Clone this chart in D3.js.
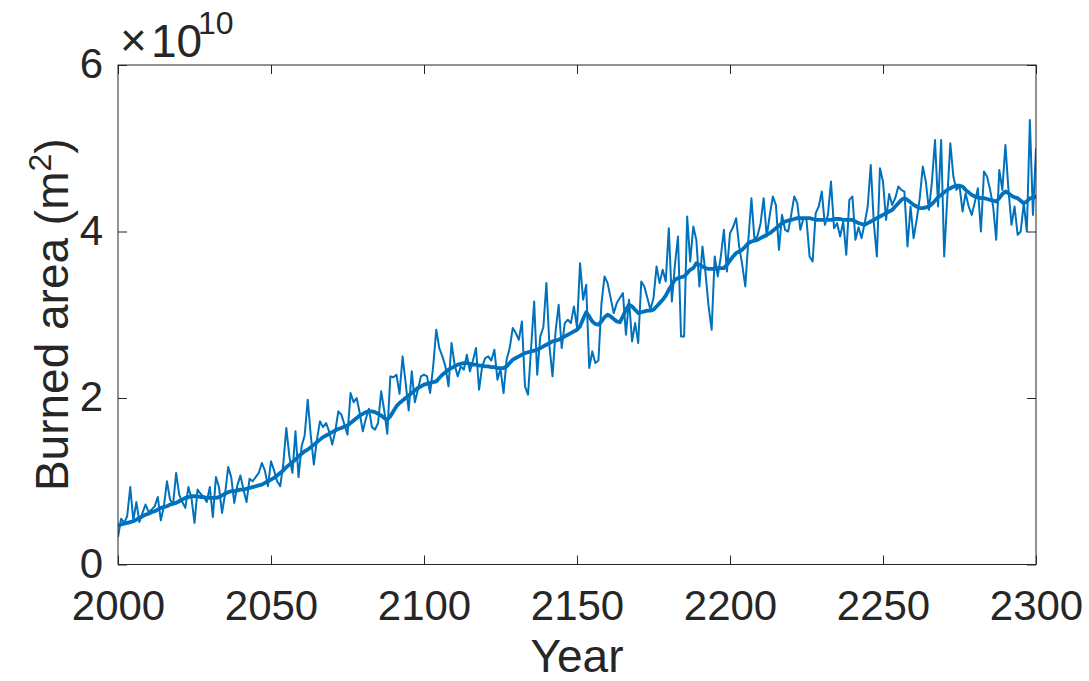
<!DOCTYPE html>
<html>
<head>
<meta charset="utf-8">
<script src="https://cdn.jsdelivr.net/npm/d3@7"></script>
<style>
  html, body { margin: 0; padding: 0; background: #fff; }
  svg { display: block; }
  text { font-family: "Liberation Sans", Arial, Helvetica, sans-serif; fill: #262626; }
</style>
</head>
<body>
<svg id="chart" width="1089" height="681"></svg>
<script>
// ---- data (values in units of 1e10 m^2) ----
const startYear = 2000;
const annual = [
  0.33,0.55,0.5,0.58,0.93,0.53,0.75,0.51,0.62,0.72,
  0.63,0.66,0.7,0.81,0.53,0.7,1.0,0.78,0.72,1.1,
  0.84,0.75,0.68,0.93,0.8,0.5,0.9,0.85,0.81,0.75,
  0.93,0.57,1.05,0.93,0.62,0.85,1.17,1.05,0.74,0.95,
  1.07,0.9,0.75,1.03,1.0,1.05,1.1,1.22,1.13,0.94,
  1.24,1.13,1.0,0.94,1.2,1.64,1.3,1.1,1.6,1.05,
  1.42,1.55,1.98,1.55,1.2,1.5,1.72,1.65,1.7,1.6,
  1.44,1.6,1.84,1.8,1.68,1.56,2.06,1.95,2.0,1.82,
  1.6,1.75,1.87,1.65,1.62,1.7,2.08,1.85,1.57,2.26,
  2.25,2.28,2.05,2.5,2.18,1.85,2.32,1.95,2.1,2.26,
  2.28,2.26,2.06,2.38,2.82,2.6,2.5,2.38,2.14,2.66,
  2.4,2.26,2.38,2.34,2.52,2.32,2.45,2.6,2.1,2.38,
  2.48,2.5,2.45,2.58,2.22,2.35,2.06,2.46,2.6,2.84,
  2.78,2.7,2.92,2.14,2.04,2.6,3.16,2.28,2.74,2.85,
  3.38,2.62,2.26,2.8,3.12,2.6,2.9,2.94,2.9,3.1,
  2.85,3.62,3.18,3.36,2.36,2.56,2.42,2.45,3.14,3.46,
  3.38,3.2,3.02,3.14,3.2,3.26,2.76,3.18,2.68,2.9,
  2.66,3.4,3.34,3.2,3.06,3.2,3.58,3.38,3.54,3.4,
  4.04,3.16,3.6,3.94,2.74,2.74,4.18,3.64,4.06,3.9,
  3.34,3.82,3.5,3.1,2.82,3.7,3.46,3.7,4.02,3.52,
  3.98,4.05,4.16,3.82,3.6,3.34,3.9,4.4,3.9,3.95,
  4.1,4.4,3.94,4.2,4.42,4.32,3.78,4.2,4.02,4.0,
  4.2,4.42,4.34,4.02,4.16,4.14,3.7,3.64,4.22,4.3,
  4.48,4.08,4.2,4.6,4.04,4.1,3.94,4.12,3.72,4.38,
  4.42,3.9,4.05,3.92,4.1,4.3,4.8,4.1,3.7,4.76,
  4.6,4.14,4.45,4.32,4.4,4.54,4.5,4.48,3.82,4.3,
  3.92,4.14,4.4,4.78,4.6,4.26,4.6,5.1,4.3,5.1,
  3.7,4.4,5.06,4.66,4.5,4.55,4.24,4.46,4.3,4.2,
  4.35,4.52,4.0,4.72,4.66,4.5,4.3,3.9,4.74,4.5,
  5.04,4.5,4.08,4.3,3.96,4.0,4.34,4.0,5.34,4.2,
  5.0
];
const smoothed = [
  0.47,0.48,0.49,0.50,0.51,0.52,0.54,0.56,0.58,0.60,
  0.61,0.63,0.64,0.66,0.68,0.69,0.70,0.72,0.73,0.74,
  0.76,0.78,0.80,0.81,0.82,0.82,0.82,0.81,0.81,0.80,
  0.80,0.80,0.80,0.81,0.83,0.85,0.87,0.88,0.88,0.89,
  0.90,0.90,0.91,0.92,0.93,0.94,0.95,0.96,0.98,1.00,
  1.02,1.04,1.07,1.10,1.13,1.17,1.20,1.23,1.26,1.30,
  1.33,1.36,1.38,1.41,1.44,1.47,1.50,1.53,1.55,1.57,
  1.59,1.61,1.63,1.64,1.66,1.67,1.70,1.73,1.76,1.79,
  1.81,1.83,1.84,1.84,1.83,1.81,1.79,1.76,1.74,1.78,
  1.84,1.90,1.94,1.97,2.00,2.03,2.06,2.09,2.12,2.14,
  2.16,2.17,2.18,2.19,2.20,2.24,2.28,2.31,2.34,2.36,
  2.38,2.40,2.41,2.42,2.42,2.41,2.40,2.40,2.39,2.39,
  2.38,2.38,2.37,2.37,2.36,2.36,2.36,2.38,2.42,2.46,
  2.48,2.50,2.52,2.54,2.55,2.56,2.57,2.58,2.60,2.62,
  2.64,2.66,2.68,2.69,2.70,2.72,2.74,2.76,2.78,2.80,
  2.82,2.86,2.95,3.03,2.98,2.92,2.89,2.88,2.92,2.97,
  3.00,2.98,2.95,2.92,2.91,2.98,3.06,3.12,3.10,3.06,
  3.02,3.03,3.04,3.05,3.05,3.06,3.10,3.14,3.18,3.23,
  3.30,3.36,3.42,3.44,3.45,3.46,3.50,3.54,3.56,3.62,
  3.60,3.58,3.56,3.55,3.55,3.55,3.56,3.56,3.56,3.60,
  3.65,3.70,3.74,3.76,3.78,3.82,3.86,3.88,3.89,3.90,
  3.92,3.94,3.96,3.98,4.01,4.04,4.07,4.10,4.12,4.13,
  4.14,4.15,4.16,4.16,4.16,4.16,4.16,4.15,4.14,4.14,
  4.14,4.14,4.14,4.14,4.15,4.15,4.15,4.14,4.14,4.14,
  4.14,4.12,4.10,4.09,4.08,4.10,4.12,4.14,4.16,4.18,
  4.20,4.22,4.24,4.26,4.30,4.34,4.38,4.40,4.38,4.35,
  4.32,4.30,4.28,4.28,4.29,4.30,4.33,4.37,4.41,4.44,
  4.47,4.50,4.52,4.54,4.55,4.55,4.54,4.50,4.47,4.44,
  4.42,4.41,4.40,4.40,4.39,4.38,4.37,4.36,4.40,4.45,
  4.48,4.46,4.43,4.41,4.40,4.37,4.34,4.36,4.40,4.40,
  4.42
];
const xTicks = [2000, 2050, 2100, 2150, 2200, 2250, 2300];
const yTicks = [0, 2, 4, 6];
const xLabel = "Year";
const exponentTimes = "\u00d7";
const exponentBase = "10";
const exponentPower = "10";

// ---- layout ----
const L = 118, R = 1036, T = 65, B = 564.5;
const color = "#0072BD";
const axisColor = "#262626";

const svg = d3.select("#chart");
const x = d3.scaleLinear().domain([2000, 2300]).range([L, R]);
const y = d3.scaleLinear().domain([0, 6]).range([B, T]);

const years = annual.map((_, i) => startYear + i);

svg.append("clipPath").attr("id", "clip")
  .append("rect").attr("x", L).attr("y", T).attr("width", R - L).attr("height", B - T);

const plot = svg.append("g").attr("clip-path", "url(#clip)");
const line = d3.line().x((d, i) => x(years[i])).y(d => y(d));

plot.append("path").datum(annual)
  .attr("d", line).attr("fill", "none").attr("stroke", color)
  .attr("stroke-width", 2).attr("stroke-linejoin", "round");
plot.append("path").datum(smoothed)
  .attr("d", line).attr("fill", "none").attr("stroke", color)
  .attr("stroke-width", 3.8).attr("stroke-linejoin", "round").attr("stroke-linecap", "round");

// axes
const tickLen = 9;
function styleAxis(g) {
  g.select(".domain").remove();
  g.selectAll(".tick line").attr("stroke", axisColor).attr("stroke-width", 1);
  g.selectAll(".tick text").attr("fill", axisColor)
    .style("font-family", "'Liberation Sans', Arial, Helvetica, sans-serif")
    .style("font-size", "42px");
}
const gx = svg.append("g").attr("transform", `translate(0,${B})`)
  .call(d3.axisBottom(x).tickValues(xTicks).tickFormat(d3.format("d"))
    .tickSizeInner(-tickLen).tickSizeOuter(0));
styleAxis(gx);
gx.selectAll(".tick text").attr("dy", null).attr("y", 55.5);

const gxTop = svg.append("g").attr("transform", `translate(0,${T})`)
  .call(d3.axisTop(x).tickValues(xTicks).tickFormat("").tickSizeInner(-tickLen).tickSizeOuter(0));
styleAxis(gxTop);

const gy = svg.append("g").attr("transform", `translate(${L},0)`)
  .call(d3.axisLeft(y).tickValues(yTicks).tickFormat(d3.format("d"))
    .tickSizeInner(-tickLen).tickSizeOuter(0));
styleAxis(gy);
gy.selectAll(".tick text").attr("x", -15).attr("dy", "0.3em");

const gyR = svg.append("g").attr("transform", `translate(${R},0)`)
  .call(d3.axisRight(y).tickValues(yTicks).tickFormat("").tickSizeInner(-tickLen).tickSizeOuter(0));
styleAxis(gyR);

svg.append("rect").attr("x", L).attr("y", T).attr("width", R - L).attr("height", B - T)
  .attr("fill", "none").attr("stroke", axisColor).attr("stroke-width", 1);

// axis labels
svg.append("text").attr("x", (L + R) / 2).attr("y", 672)
  .attr("text-anchor", "middle").style("font-size", "46px").text(xLabel);

const yl = svg.append("text")
  .attr("transform", `translate(68,${(T + B) / 2}) rotate(-90)`)
  .attr("text-anchor", "middle").style("font-size", "46px");
yl.append("tspan").text("Burned area (m");
yl.append("tspan").attr("dy", -17).style("font-size", "32px").text("2");
yl.append("tspan").attr("dy", 17).text(")");

// exponent label (single text element)
const ex = svg.append("text").attr("x", 120).attr("y", 56).style("font-size", "46px");
ex.append("tspan").text(exponentTimes);
ex.append("tspan").attr("x", 151).attr("y", 57).text(exponentBase);
ex.append("tspan").attr("x", 198).attr("y", 34).style("font-size", "32px").text(exponentPower);
</script>
</body>
</html>
